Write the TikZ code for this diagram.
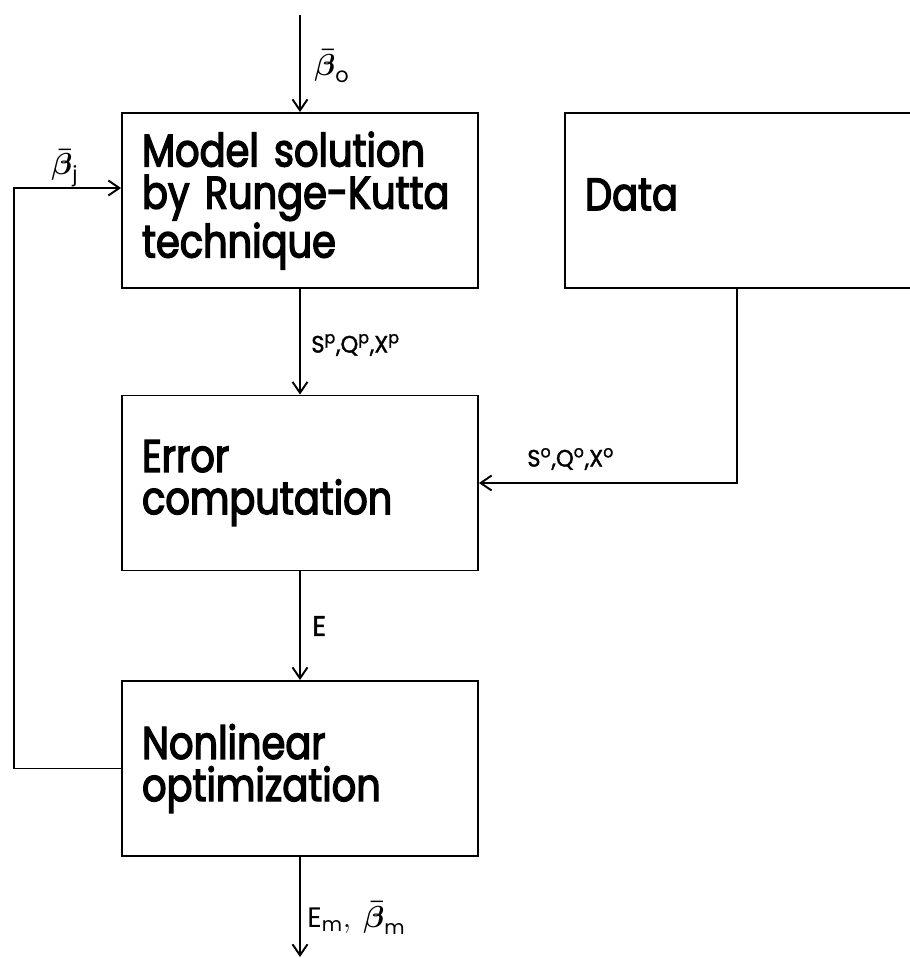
\documentclass[tikz,border=0pt]{standalone}
\usepackage{amsmath}
\usepackage{fontspec}
\setmainfont{Poppins}
\setmathrm{Poppins}
\newfontfamily\boxfont{Poppins}[FakeStretch=0.84,FakeBold=3]
\newfontfamily\lblfont{Poppins}[FakeStretch=0.95,FakeBold=1.5]
\usetikzlibrary{arrows.meta}
\begin{document}
\begin{tikzpicture}[x=0.02cm,y=-0.02cm,
  box/.style={draw,line width=1.1pt,rectangle,minimum width=7.12cm,minimum height=3.5cm,
    inner xsep=0.4cm,text width=6.32cm,align=left,
    font=\boxfont\fontsize{26}{24}\selectfont},
  arr/.style={line width=1.1pt,-{Straight Barb[length=0.22cm,width=0.3cm]}},
  lbl/.style={inner sep=0pt,font=\lblfont\fontsize{13.5}{15}\selectfont},
  elbl/.style={inner sep=0pt,font=\lblfont\fontsize{16}{18}\selectfont},
  glbl/.style={inner sep=0pt,font=\lblfont\fontsize{17}{19}\selectfont}]
\path[use as bounding box] (0,0) rectangle (910,958);
\clip (0,0) rectangle (910,958);

% blocks
\node[box] (model) at (300,200.5) {Model solution\\by~Runge\mbox{-}Kutta\\technique};
\node[box] (data)  at (743,200.5) {\raisebox{7pt}{Data}};
\node[box] (error) at (300,483) {Error\\computation};
\node[box] (nlo)   at (300,768.5) {Nonlinear\\optimization};

% free ends and bends
\coordinate (in0) at (300,15);
\coordinate (out) at (300,957);
\coordinate (fbk) at (14,188);

% connectors
\draw[arr] (in0) -- (model);
\draw[arr] (model) -- (error);
\draw[arr] ([xshift=-0.12cm]data.south) |- (error.east);
\draw[arr] (error) -- (nlo);
\draw[arr] (nlo) -- (out);
\draw[arr] (nlo.west) -| (fbk) -- (model.west |- fbk);

% labels
\node[glbl,anchor=west] (lb0) at (314,66) {$\boldsymbol{\bar{\beta}}_{\mathrm{o}}$};
\node[glbl] (lbj) at (65,168) {$\boldsymbol{\bar{\beta}}_{\mathrm{j}}$};
\node[lbl,anchor=west] (lsp) at (311,345) {S\textsuperscript{p},Q\textsuperscript{p},X\textsuperscript{p}};
\node[lbl,anchor=west] (lso) at (527,459) {S\textsuperscript{o},Q\textsuperscript{o},X\textsuperscript{o}};
\node[elbl,anchor=west] (le) at (312,626) {E};
\node[elbl,anchor=west] (lem) at (307,918) {$\mathrm{E}_{\mathrm{m}},\ \boldsymbol{\bar{\beta}}_{\mathrm{m}}$};
\end{tikzpicture}
\end{document}
